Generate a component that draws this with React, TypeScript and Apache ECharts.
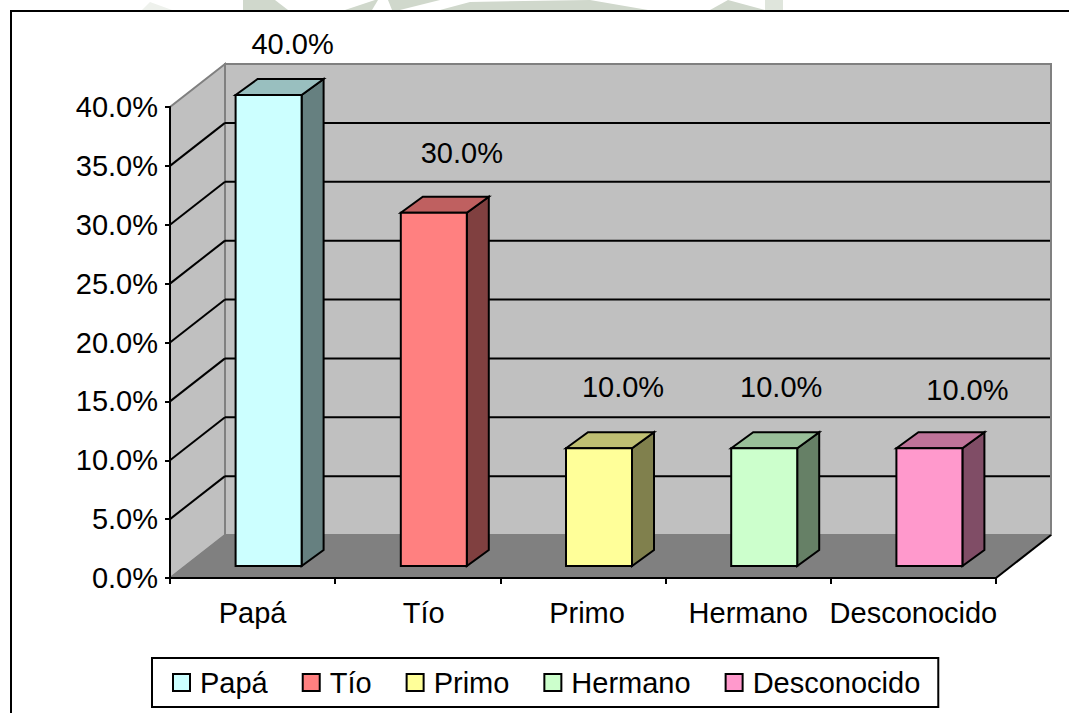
import React, { useEffect, useRef } from "react";
import * as echarts from "echarts";

const categories = ["Papá", "Tío", "Primo", "Hermano", "Desconocido"];
const values = [40, 30, 10, 10, 10];
const frontColors = ["#ccffff", "#ff8080", "#ffff99", "#ccffcc", "#ff99cc"];
const topColors = ["#99bfbf", "#bf6060", "#bfbf73", "#99bf99", "#bf7399"];
const sideColors = ["#668080", "#804040", "#80804d", "#668066", "#804d66"];
const yTicks = [5, 10, 15, 20, 25, 30, 35];
const labelShiftX = [24, 28, 24, 17, 38];
const labelShiftY = [-51, -60, -61, -61, -58];
const categoryLabelPad = [0, 12, 8, 0, 0];
const backdropShapes = [
  { points: [[142, 10], [150, 2], [172, 10]], fill: "#eef1ec" },
  { points: [[243, 10], [243, 0], [275, 0], [288, 10]], fill: "#d0d8cc" },
  { points: [[345, 10], [375, 0], [378, 0], [372, 10]], fill: "#d0d8cc" },
  { points: [[388, 0], [440, 0], [400, 10], [392, 10]], fill: "#d0d8cc" },
  { points: [[440, 10], [470, 2], [590, 0], [648, 10]], fill: "#d0d8cc" },
  { points: [[710, 10], [728, 0], [765, 10]], fill: "#d0d8cc" },
  { points: [[765, 10], [765, 0], [783, 0], [783, 10]], fill: "#dfe5dc" },
];

const FONT = '"Liberation Sans", Arial, sans-serif';
const FONT_SIZE = 29;
const WALL_DX = 55;
const WALL_DY = -43;
const BAR_DX = 16;
const BAR_DY = -12;
const BAR_HALF = 33;
const DEPTH_DX = 22;
const DEPTH_DY = -16;

const face = (points: number[][], fill: string) => ({
  type: "polygon",
  shape: { points },
  style: { fill, stroke: "#000", lineWidth: 2, lineJoin: "miter" },
});

const renderWalls = (params: any, api: any) => {
  const g = params.coordSys;
  const L = g.x;
  const R = g.x + g.width;
  const T = g.y;
  const B = g.y + g.height;
  const wall = { fill: "#c0c0c0", stroke: "#808080", lineWidth: 2 };
  const kids: any[] = [
    { type: "polygon", shape: { points: [[L, B], [L, T], [L + WALL_DX, T + WALL_DY], [L + WALL_DX, B + WALL_DY]] }, style: wall },
    { type: "polygon", shape: { points: [[L + WALL_DX, T + WALL_DY], [R + WALL_DX, T + WALL_DY], [R + WALL_DX, B + WALL_DY], [L + WALL_DX, B + WALL_DY]] }, style: wall },
    { type: "polygon", shape: { points: [[L, B], [L + WALL_DX, B + WALL_DY], [R + WALL_DX, B + WALL_DY], [R, B]] }, style: { fill: "#808080", stroke: "#808080", lineWidth: 1 } },
    { type: "line", shape: { x1: R, y1: B, x2: R + WALL_DX, y2: B + WALL_DY }, style: { stroke: "#000", lineWidth: 2 } },
  ];
  yTicks.forEach((t) => {
    const y = api.coord([0, t])[1];
    kids.push({ type: "line", shape: { x1: L, y1: y, x2: L + WALL_DX, y2: y + WALL_DY }, style: { stroke: "#000", lineWidth: 2 } });
    kids.push({ type: "line", shape: { x1: L + WALL_DX, y1: y + WALL_DY, x2: R + WALL_DX - 1, y2: y + WALL_DY }, style: { stroke: "#000", lineWidth: 2 } });
  });
  return { type: "group", children: kids };
};

const renderBar = (params: any, api: any) => {
  const i = api.value(0);
  const v = api.value(1);
  const top = api.coord([i, v]);
  const base = api.coord([i, 0]);
  const cx = top[0] + BAR_DX;
  const l = cx - BAR_HALF;
  const r = cx + BAR_HALF;
  const t = top[1] + BAR_DY;
  const b = base[1] + BAR_DY;
  return {
    type: "group",
    children: [
      face([[r, t], [r + DEPTH_DX, t + DEPTH_DY], [r + DEPTH_DX, b + DEPTH_DY], [r, b]], sideColors[i]),
      face([[l, t], [l + DEPTH_DX, t + DEPTH_DY], [r + DEPTH_DX, t + DEPTH_DY], [r, t]], topColors[i]),
      face([[l, t], [r, t], [r, b], [l, b]], frontColors[i]),
      {
        type: "text",
        x: cx + labelShiftX[i],
        y: t + labelShiftY[i],
        style: {
          text: v.toFixed(1) + "%",
          fill: "#000",
          font: `${FONT_SIZE}px ${FONT}`,
          textAlign: "center",
          textVerticalAlign: "middle",
        },
      },
    ],
  };
};

export default function App() {
  const ref = useRef<HTMLDivElement>(null);
  useEffect(() => {
    document.body.style.margin = "0";
    const chart = echarts.init(ref.current!, undefined, { renderer: "svg" });
    chart.setOption({
      animation: false,
      backgroundColor: "#fff",
      textStyle: { fontFamily: FONT },
      grid: { left: 170, right: 73, top: 107, bottom: 135, containLabel: false },
      xAxis: {
        type: "category",
        data: categories.map((value, i) => ({ value, textStyle: { padding: [0, 0, 0, categoryLabelPad[i]] } })),
        z: 5,
        axisLine: { lineStyle: { color: "#000", width: 2 } },
        axisTick: { show: true, alignWithLabel: false, length: 6, lineStyle: { color: "#000", width: 2 } },
        axisLabel: { color: "#000", fontSize: FONT_SIZE, fontFamily: FONT, margin: 20, interval: 0 },
      },
      yAxis: {
        type: "value",
        min: 0,
        max: 40,
        interval: 5,
        z: 5,
        splitLine: { show: false },
        axisLine: { show: true, lineStyle: { color: "#000", width: 2 } },
        axisTick: { show: true, length: 5, lineStyle: { color: "#000", width: 2 } },
        axisLabel: { color: "#000", fontSize: FONT_SIZE, fontFamily: FONT, margin: 12, formatter: (v: number) => v.toFixed(1) + "%" },
      },
      legend: {
        left: 152,
        top: 658,
        data: categories,
        icon: "rect",
        itemWidth: 17,
        itemHeight: 17,
        itemGap: 34,
        padding: [10, 18, 10, 20],
        borderColor: "#000",
        borderWidth: 2,
        backgroundColor: "#fff",
        itemStyle: { borderColor: "#000", borderWidth: 2 },
        textStyle: { color: "#000", fontSize: FONT_SIZE, fontFamily: FONT, padding: [0, 0, 0, 5] },
      },
      graphic: [
        ...backdropShapes.map((s) => ({ type: "polygon", silent: true, shape: { points: s.points }, style: { fill: s.fill } })),
        {
          type: "polyline",
          silent: true,
          shape: { points: [[11, 713], [11, 11], [1069, 11]] },
          style: { fill: "none", stroke: "#000", lineWidth: 2 },
        },
      ],
      series: [
        { type: "custom", name: "walls", renderItem: renderWalls, data: [[0, 0]], z: 1, silent: true, clip: false },
        ...categories.map((name, i) => ({
          type: "custom",
          name,
          renderItem: renderBar,
          data: [[i, values[i]]],
          encode: { x: 0, y: 1 },
          itemStyle: { color: frontColors[i] },
          z: 6,
          clip: false,
        })),
      ],
    });
    return () => chart.dispose();
  }, []);
  return <div ref={ref} style={{ position: "absolute", left: 0, top: 0, width: 1069, height: 713 }} />;
}
